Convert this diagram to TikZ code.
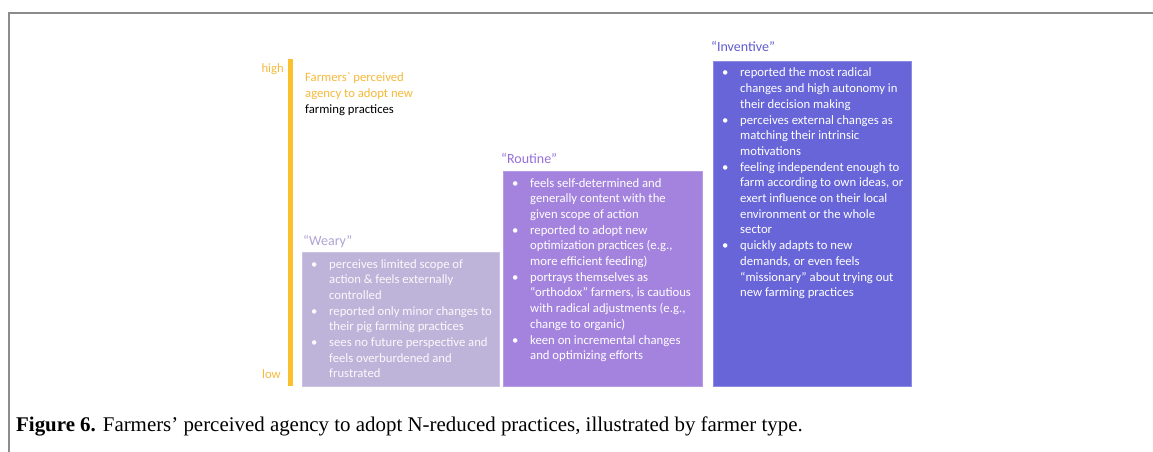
\documentclass[tikz,border=0pt]{standalone}
\usepackage{fontspec}
\setmainfont{Carlito}
\newfontfamily\capfont{Liberation Serif}
\usetikzlibrary{calc}
\definecolor{framegray}{RGB}{140,140,140}
\definecolor{agency}{RGB}{250,192,45}
\definecolor{agencytext}{RGB}{246,186,58}
\definecolor{wearyfill}{RGB}{190,180,217}
\definecolor{routinefill}{RGB}{164,131,222}
\definecolor{inventfill}{RGB}{103,101,216}
\definecolor{wearytitle}{RGB}{176,163,213}
\definecolor{routinetitle}{RGB}{150,112,218}
\definecolor{inventtitle}{RGB}{96,92,208}
\newcommand\bitem[1]{\makebox[18pt][l]{•}#1}
\newcommand\bcont[1]{\hspace*{18pt}#1}
\newcommand\bodyfont{\fontsize{12.7}{15.7}\selectfont}
\tikzset{
  typebox/.style={anchor=north west, inner sep=0pt, line width=0.6pt},
  boxtext/.style={anchor=base west, inner sep=0pt, text=white, font=\bodyfont},
  typetitle/.style={anchor=base west, inner sep=0pt, font=\fontsize{14}{16}\selectfont},
  scalelabel/.style={anchor=base east, inner sep=0pt, text=agencytext, font=\bodyfont},
  frameline/.style={draw=framegray, line width=1.4pt}
}
\begin{document}
\begin{tikzpicture}[x=1pt,y=-1pt]
\useasboundingbox (0,0) rectangle (1153,452);
\fill[white] (0,0) rectangle (1153,452);
\draw[frameline] (9,452) -- (9,13) -- (1153,13);
% agency scale
\fill[agency] (288,59) rectangle (293,386);
\node[scalelabel] (high) at (284,73) {high};
\node[scalelabel] (low) at (281,378) {low};
\node[anchor=base west, inner sep=0pt, font=\bodyfont] (axis) at (305,73)
  {\parbox[t]{150pt}{\raggedright\color{agencytext}Farmers\textasciigrave{} perceived\\agency to adopt new\\\color{black}farming practices}};
% boxes
\node[typebox, fill=wearyfill, draw=wearyfill!80!white, minimum width=197pt, minimum height=134pt] (weary) at (302,252) {};
\node[typebox, fill=routinefill, draw=routinefill!80!white, minimum width=199pt, minimum height=215pt] (routine) at (503,171) {};
\node[typebox, fill=inventfill, draw=inventfill!75!white, minimum width=198pt, minimum height=325pt] (invent) at (713,61) {};
% titles
\node[typetitle, text=wearytitle] (wearyT) at ($(weary.north west)+(1,-7)$) {“Weary”};
\node[typetitle, text=routinetitle] (routineT) at ($(routine.north west)+(-2,-8)$) {“Routine”};
\node[typetitle, text=inventtitle] (inventT) at ($(invent.north west)+(-2,-9)$) {“Inventive”};
% texts
\node[boxtext, text=white!92!wearyfill] (wearyX) at ($(weary.north west)+(9,16)$) {\parbox[t]{190pt}{\raggedright
\bitem{perceives limited scope of}\\
\bcont{action \& feels externally}\\
\bcont{controlled}\\
\bitem{reported only minor changes to}\\
\bcont{their pig farming practices}\\
\bitem{sees no future perspective and}\\
\bcont{feels overburdened and}\\
\bcont{frustrated}}};
\node[boxtext] (routineX) at ($(routine.north west)+(9,16)$) {\parbox[t]{190pt}{\raggedright
\bitem{feels self-determined and}\\
\bcont{generally content with the}\\
\bcont{given scope of action}\\
\bitem{reported to adopt new}\\
\bcont{optimization practices (e.g.,}\\
\bcont{more efficient feeding)}\\
\bitem{portrays themselves as}\\
\bcont{“orthodox” farmers, is cautious}\\
\bcont{with radical adjustments (e.g.,}\\
\bcont{change to organic)}\\
\bitem{keen on incremental changes}\\
\bcont{and optimizing efforts}}};
\node[boxtext] (inventX) at ($(invent.north west)+(9,16)$) {\parbox[t]{190pt}{\raggedright
\bitem{reported the most radical}\\
\bcont{changes and high autonomy in}\\
\bcont{their decision making}\\
\bitem{perceives external changes as}\\
\bcont{matching their intrinsic}\\
\bcont{motivations}\\
\bitem{feeling independent enough to}\\
\bcont{farm according to own ideas, or}\\
\bcont{exert influence on their local}\\
\bcont{environment or the whole}\\
\bcont{sector}\\
\bitem{quickly adapts to new}\\
\bcont{demands, or even feels}\\
\bcont{“missionary” about trying out}\\
\bcont{new farming practices}}};
% caption
\node[anchor=base west, inner sep=0pt, font=\capfont\fontsize{20.9}{24}\selectfont] (caption) at (16,431)
  {\textbf{Figure 6.} Farmers’ perceived agency to adopt N-reduced practices, illustrated by farmer type.};
\end{tikzpicture}
\end{document}
